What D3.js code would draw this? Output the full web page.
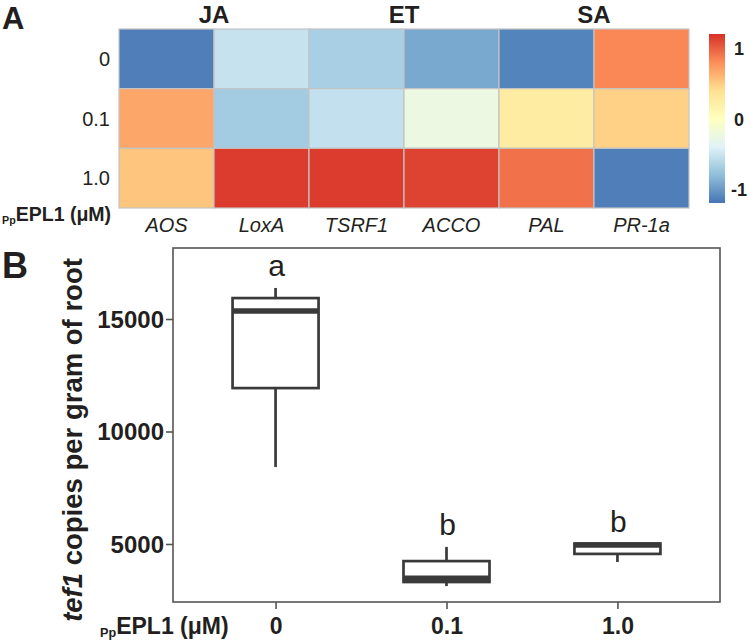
<!DOCTYPE html>
<html><head><meta charset="utf-8">
<script src="https://cdn.jsdelivr.net/npm/d3@7"></script>
<style>body{margin:0;background:#fff}svg{display:block;font-family:"Liberation Sans",Arial,sans-serif}</style>
</head><body>
<script>
// ---- Panel A data ----
const doses = ["0", "0.1", "1.0"];
const genes = ["AOS", "LoxA", "TSRF1", "ACCO", "PAL", "PR-1a"];
const groups = [{name:"JA", from:0, to:2}, {name:"ET", from:2, to:4}, {name:"SA", from:4, to:6}];
const heat0   = [-1.15, -0.53, -0.68, -0.92, -1.12, 0.82];
const heat01  = [0.68, -0.71, -0.55, -0.24, 0.25, 0.47];
const heat10  = [0.53, 1.15, 1.15, 1.12, 0.92, -1.15];
const legendTicks = [1, 0, -1];
const palette = ["#4575b4","#91bfdb","#e0f3f8","#ffffbf","#fee090","#fc8d59","#d73027"];

// ---- Panel B data ----
const boxCats = ["0", "0.1", "1.0"];
const whiskLo = [8420, 3130, 4200];
const q1      = [11930, 3310, 4560];
const median  = [15360, 3480, 4950];
const q3      = [15930, 4240, 5020];
const whiskHi = [16380, 4870, 5020];
const letters = ["a", "b", "b"];
const yTicks  = [5000, 10000, 15000];

const W = 750, H = 640;
const svg = d3.select("body").append("svg").attr("width", W).attr("height", H);
const ink = "#231f20";

// ================= Panel A =================
const heat = [heat0, heat01, heat10];
const hx = d3.scaleBand().domain(genes).range([119, 689]);
const hy = d3.scaleBand().domain(doses).range([29, 208]);
const cDom = d3.range(palette.length).map(i => -1.2 + 2.4 * i / (palette.length - 1));
const color = d3.scaleLinear().domain(cDom).range(palette).interpolate(d3.interpolateRgb);

const cells = [];
doses.forEach((d, r) => genes.forEach((g, c) => cells.push({d, g, v: heat[r][c]})));
svg.append("g").selectAll("rect").data(cells).join("rect")
  .attr("x", d => hx(d.g)).attr("y", d => hy(d.d))
  .attr("width", hx.bandwidth()).attr("height", hy.bandwidth())
  .attr("fill", d => color(d.v)).attr("stroke", "#c4c4c4").attr("stroke-width", 1.2);

svg.append("g").selectAll("text").data(doses).join("text")
  .attr("x", 110).attr("y", d => hy(d) + hy.bandwidth() / 2 + 7)
  .attr("text-anchor", "end").attr("font-size", 20).attr("fill", ink).text(d => d);

svg.append("g").selectAll("text").data(genes).join("text")
  .attr("x", d => hx(d) + hx.bandwidth() / 2).attr("y", 232)
  .attr("text-anchor", "middle").attr("font-size", 20).attr("font-style", "italic")
  .attr("fill", ink).text(d => d);

svg.append("g").selectAll("text").data(groups).join("text")
  .attr("x", d => (hx(genes[d.from]) + hx(genes[d.to - 1]) + hx.bandwidth()) / 2).attr("y", 23)
  .attr("text-anchor", "middle").attr("font-size", 24).attr("font-weight", "bold")
  .attr("fill", ink).text(d => d.name);

// colour bar
const ly = d3.scaleLinear().domain([-1.2, 1.2]).range([203, 34]);
const grad = svg.append("defs").append("linearGradient").attr("id", "cb")
  .attr("x1", 0).attr("y1", 1).attr("x2", 0).attr("y2", 0);
grad.selectAll("stop").data(cDom).join("stop")
  .attr("offset", (d, i) => i / (cDom.length - 1)).attr("stop-color", d => color(d));
svg.append("rect").attr("x", 709).attr("y", ly(1.2)).attr("width", 16)
  .attr("height", ly(-1.2) - ly(1.2)).attr("fill", "url(#cb)");
svg.append("g").selectAll("text").data(legendTicks).join("text")
  .attr("x", d => d < 0 ? 731 : 734).attr("y", d => ly(d) + 7)
  .attr("font-size", 18).attr("font-weight", "bold").attr("fill", ink).text(d => d);

// panel labels
svg.append("text").attr("x", 2).attr("y", 29).attr("font-size", 31).attr("font-weight", "bold").attr("fill", ink).text("A");
svg.append("text").attr("x", 2).attr("y", 278).attr("font-size", 36).attr("font-weight", "bold").attr("fill", ink).text("B");

function eplLabel(x, y, size) {
  const t = svg.append("text").attr("x", x).attr("y", y).attr("font-weight", "bold").attr("fill", ink);
  t.append("tspan").attr("font-size", size * 0.55).attr("dy", 3).text("Pp");
  t.append("tspan").attr("font-size", size).attr("dy", -3).text("EPL1 (μM)");
}
eplLabel(2, 221, 19.5);

// ================= Panel B =================
const pL = 173, pR = 720, pT = 248, pB = 602;
const x = d3.scalePoint().domain(boxCats).range([pL, pR]).padding(0.6);
const y = d3.scaleLinear().domain([2422, 18156]).range([pB, pT]);
const stroke = "#3a3a3a";

svg.append("rect").attr("x", pL).attr("y", pT).attr("width", pR - pL).attr("height", pB - pT)
  .attr("fill", "none").attr("stroke", "#555").attr("stroke-width", 1.6);

const yAxis = svg.append("g").attr("transform", `translate(${pL},0)`)
  .call(d3.axisLeft(y).tickValues(yTicks).tickSize(7).tickPadding(2).tickFormat(d3.format("d")));
yAxis.select(".domain").remove();
yAxis.selectAll("line").attr("stroke", "#555").attr("stroke-width", 1.6);
yAxis.selectAll("text").attr("font-size", 24).attr("font-weight", "bold").attr("fill", ink)
  .attr("font-family", '"Liberation Sans",Arial,sans-serif').attr("dy", "0.35em");

const xAxis = svg.append("g").attr("transform", `translate(0,${pB})`)
  .call(d3.axisBottom(x).tickSize(7).tickPadding(9));
xAxis.select(".domain").remove();
xAxis.selectAll("line").attr("stroke", "#555").attr("stroke-width", 1.6);
xAxis.selectAll("text").attr("font-size", 23).attr("font-weight", "bold").attr("fill", ink)
  .attr("font-family", '"Liberation Sans",Arial,sans-serif').attr("dy", "0.71em");

eplLabel(100, 634, 23);

// y title
const yt = svg.append("text").attr("transform", "translate(82,440) rotate(-90)")
  .attr("text-anchor", "middle").attr("font-size", 27.5).attr("font-weight", "bold").attr("fill", ink);
yt.append("tspan").attr("font-style", "italic").text("tef1");
yt.append("tspan").text(" copies per gram of root");

// boxes
const bw = 86;
const boxes = boxCats.map((c, i) => ({c, lo: whiskLo[i], q1: q1[i], med: median[i], q3: q3[i], hi: whiskHi[i], l: letters[i]}));
const bg = svg.append("g").selectAll("g").data(boxes).join("g");
bg.append("line").attr("x1", d => x(d.c)).attr("x2", d => x(d.c))
  .attr("y1", d => y(d.hi)).attr("y2", d => y(d.q3)).attr("stroke", stroke).attr("stroke-width", 2.7);
bg.append("line").attr("x1", d => x(d.c)).attr("x2", d => x(d.c))
  .attr("y1", d => y(d.q1)).attr("y2", d => y(d.lo)).attr("stroke", stroke).attr("stroke-width", 2.7);
bg.append("rect").attr("x", d => x(d.c) - bw / 2).attr("width", bw)
  .attr("y", d => y(d.q3)).attr("height", d => y(d.q1) - y(d.q3))
  .attr("fill", "#fff").attr("stroke", stroke).attr("stroke-width", 2.7);
bg.append("line").attr("x1", d => x(d.c) - bw / 2).attr("x2", d => x(d.c) + bw / 2)
  .attr("y1", d => y(d.med)).attr("y2", d => y(d.med)).attr("stroke", stroke).attr("stroke-width", 5.5);
bg.append("text").attr("x", d => x(d.c) + 1).attr("y", d => y(d.hi) - 12)
  .attr("text-anchor", "middle").attr("font-size", 30).attr("fill", ink).text(d => d.l);
</script>
</body></html>
